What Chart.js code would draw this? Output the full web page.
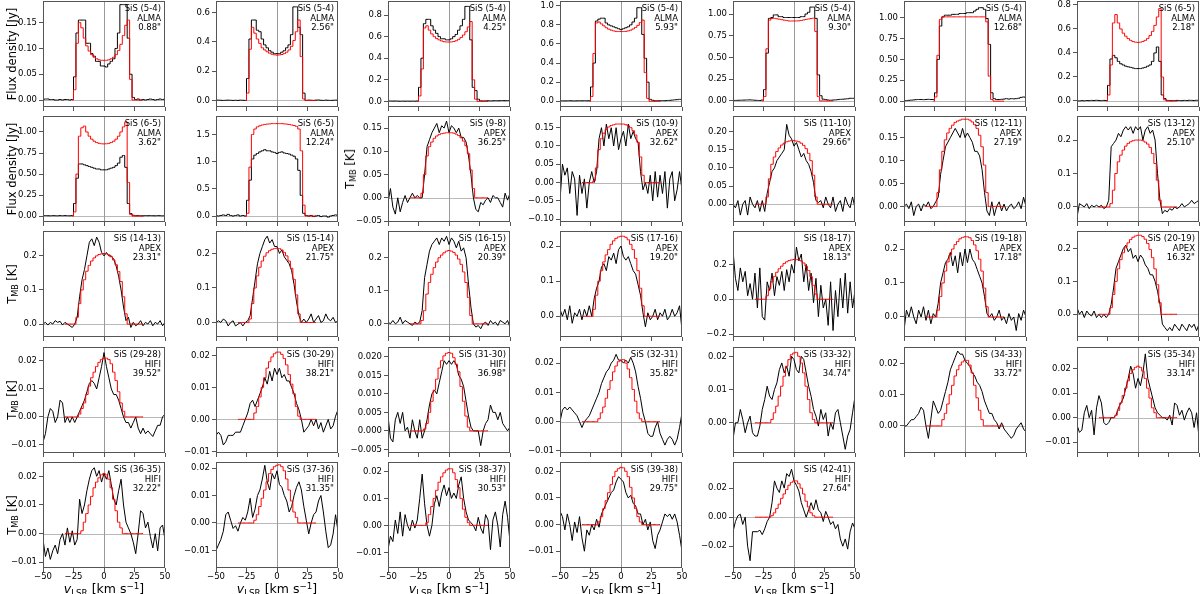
<!DOCTYPE html>
<html>
<head>
<meta charset="utf-8">
<script src="https://cdn.jsdelivr.net/npm/chart.js@4.4.1/dist/chart.umd.min.js"></script>
<style>
  html, body { margin: 0; padding: 0; background: #fff; }
  body { width: 1200px; height: 594px; position: relative; overflow: hidden; font-family: 'DejaVu Sans', sans-serif; color: #000; }
  canvas { position: absolute; }
  .ylab { position: absolute; transform: translate(-50%, -50%) rotate(-90deg); white-space: nowrap; font-size: 11.5px; }
  .xlab { position: absolute; transform: translate(-50%, -50%); white-space: nowrap; font-size: 12.5px; }
  .sub { font-size: 0.7em; position: relative; top: 0.3em; }
  .sup { font-size: 0.7em; position: relative; top: -0.45em; }
</style>
</head>
<body>
<script>
// velocity grids (km/s)
const vObs = [-50,-48,-46,-44,-42,-40,-38,-36,-34,-32,-30,-28,-26,-24,-22,-20,-18,-16,-14,-12,-10,-8,-6,-4,-2,0,2,4,6,8,10,12,14,16,18,20,22,24,26,28,30,32,34,36,38,40,42,44,46,48,50];
const vMod = [-32,-30,-28,-26,-24,-22,-20,-18,-16,-14,-12,-10,-8,-6,-4,-2,0,2,4,6,8,10,12,14,16,18,20,22,24,26,28,30,32];
const xTicks = [-50, -25, 0, 25, 50];

const transitions = ['SiS (5-4)','SiS (5-4)','SiS (5-4)','SiS (5-4)','SiS (5-4)','SiS (5-4)','SiS (6-5)',
  'SiS (6-5)','SiS (6-5)','SiS (9-8)','SiS (10-9)','SiS (11-10)','SiS (12-11)','SiS (13-12)',
  'SiS (14-13)','SiS (15-14)','SiS (16-15)','SiS (17-16)','SiS (18-17)','SiS (19-18)','SiS (20-19)',
  'SiS (29-28)','SiS (30-29)','SiS (31-30)','SiS (32-31)','SiS (33-32)','SiS (34-33)','SiS (35-34)',
  'SiS (36-35)','SiS (37-36)','SiS (38-37)','SiS (39-38)','SiS (42-41)'];
const telescopes = ['ALMA','ALMA','ALMA','ALMA','ALMA','ALMA','ALMA',
  'ALMA','ALMA','APEX','APEX','APEX','APEX','APEX',
  'APEX','APEX','APEX','APEX','APEX','APEX','APEX',
  'HIFI','HIFI','HIFI','HIFI','HIFI','HIFI','HIFI',
  'HIFI','HIFI','HIFI','HIFI','HIFI'];
const beams = ['0.88','2.56','4.25','5.93','9.30','12.68','2.18',
  '3.62','12.24','36.25','32.62','29.66','27.19','25.10',
  '23.31','21.75','20.39','19.20','18.13','17.18','16.32',
  '39.52','38.21','36.98','35.82','34.74','33.72','33.14',
  '32.22','31.35','30.53','29.75','27.64'];

const yMin = [-0.0135,-0.045,-0.052,-0.06,-0.07,-0.07,-0.05,
  -0.07,-0.11,-0.052,-0.108,-0.049,-0.034,-0.045,
  -0.038,-0.042,-0.04,-0.059,-0.217,-0.059,-0.069,
  -0.0129,-0.0105,-0.006,-0.0107,-0.0091,-0.0087,-0.0144,
  -0.012,-0.0164,-0.0158,-0.0163,-0.035];
const yMax = [0.192,0.68,0.93,1.05,1.15,1.2,0.833,
  1.19,1.84,0.176,0.182,0.243,0.197,0.272,
  0.273,0.265,0.281,0.243,0.392,0.253,0.253,
  0.025,0.0226,0.0227,0.0255,0.0228,0.0253,0.0288,
  0.025,0.0222,0.0235,0.0235,0.038];
const yTicks = [[0,0.05,0.1,0.15],[0,0.2,0.4,0.6],[0,0.2,0.4,0.6,0.8],[0,0.2,0.4,0.6,0.8,1.0],[0,0.25,0.5,0.75,1.0],[0,0.25,0.5,0.75,1.0],[0,0.2,0.4,0.6,0.8],
  [0,0.25,0.5,0.75,1.0],[0,0.5,1.0,1.5],[-0.05,0,0.05,0.1,0.15],[-0.1,-0.05,0,0.05,0.1,0.15],[0,0.05,0.1,0.15,0.2],[0,0.05,0.1,0.15],[0,0.1,0.2],
  [0,0.1,0.2],[0,0.1,0.2],[0,0.1,0.2],[0,0.1,0.2],[-0.2,0,0.2],[0,0.1,0.2],[0,0.1,0.2],
  [-0.01,0,0.01,0.02],[-0.01,0,0.01,0.02],[-0.005,0,0.005,0.01,0.015,0.02],[-0.01,0,0.01,0.02],[0,0.01,0.02],[0,0.01,0.02],[-0.01,0,0.01,0.02],
  [-0.01,0,0.01,0.02],[-0.01,0,0.01,0.02],[-0.01,0,0.01,0.02],[-0.01,0,0.01,0.02],[-0.02,0,0.02]];
const yDecimals = [2,1,1,1,2,2,1, 2,1,2,2,2,2,1, 1,1,1,1,1,1,1, 2,2,3,2,2,2,2, 2,2,2,2,2];

// observed spectra on vObs
const obs1 = [0.001,0.002,0.002,0.001,0.001,0.000,0.000,0.001,0.000,0.001,0.001,0.000,0.001,
  0.045,0.13,0.155,0.155,0.155,0.11,0.11,0.09,0.085,0.075,0.075,0.066,0.066,
  0.064,0.07,0.075,0.08,0.10,0.13,0.185,0.185,0.185,0.12,0.05,0.005,
  0.001,0.002,0.0,0.001,0.0,0.001,0.002,0.001,0.0,0.001,0.002,0.001,0.002];
const obs2 = [0.003,0.002,0.001,0.000,0.001,0.002,0.001,0.000,0.001,0.000,0.002,0.001,0.000,
  0.15,0.42,0.55,0.55,0.48,0.47,0.42,0.38,0.36,0.34,0.33,0.32,0.32,
  0.32,0.33,0.34,0.36,0.38,0.45,0.64,0.64,0.5,0.45,0.05,0.0,
  0.002,0.001,0.0,0.002,0.003,0.001,0.0,0.002,0.001,0.0,0.001,0.002,0.003];
const obs3 = [0.005,0.004,0.003,0.004,0.003,0.002,0.003,0.002,0.003,0.002,0.003,0.002,0.004,
  0.13,0.40,0.72,0.76,0.76,0.70,0.66,0.63,0.60,0.58,0.58,0.57,0.57,
  0.58,0.60,0.62,0.66,0.70,0.76,0.88,0.88,0.57,0.13,0.1,0.02,
  0.005,0.004,0.005,0.006,0.005,0.006,0.007,0.006,0.007,0.008,0.007,0.008,0.009];
const obs4 = [0.004,0.005,0.004,0.005,0.006,0.005,0.004,0.005,0.006,0.005,0.006,0.005,0.006,
  0.15,0.4,0.84,0.86,0.87,0.87,0.82,0.80,0.79,0.78,0.77,0.76,0.75,
  0.76,0.77,0.78,0.80,0.83,0.87,0.98,0.98,0.7,0.45,0.2,0.02,
  0.01,0.005,0.006,0.005,0.007,0.006,0.008,0.01,0.012,0.015,0.017,0.02,0.022];
const obs5 = [0.005,0.006,0.007,0.008,0.009,0.01,0.011,0.012,0.01,0.008,0.006,0.005,0.01,
  0.13,0.55,0.95,0.96,0.99,0.99,0.97,0.97,0.96,0.96,0.96,0.96,0.96,
  0.96,0.96,0.97,0.97,1.0,1.02,1.08,1.08,0.95,0.3,0.06,0.02,
  0.015,0.01,0.008,0.01,0.012,0.015,0.018,0.02,0.022,0.025,0.03,0.03,0.032];
const obs6 = [0.005,0.006,0.01,0.012,0.015,0.018,0.02,0.02,0.018,0.02,0.022,0.02,0.02,
  0.1,0.5,0.9,1.01,1.03,1.03,1.03,1.04,1.04,1.04,1.05,1.05,1.05,
  1.06,1.06,1.06,1.08,1.1,1.12,1.12,1.1,0.99,0.68,0.1,0.03,
  0.02,0.02,0.022,0.025,0.03,0.025,0.03,0.028,0.03,0.035,0.045,0.05,0.045];
const obs7 = [0.002,0.001,0.003,0.002,0.004,0.003,0.005,0.004,0.006,0.004,0.003,0.005,0.004,
  0.13,0.35,0.38,0.36,0.33,0.31,0.30,0.29,0.285,0.28,0.275,0.27,0.27,
  0.27,0.275,0.28,0.29,0.30,0.33,0.40,0.45,0.33,0.05,0.02,0.005,
  0.004,0.003,0.004,0.005,0.004,0.003,0.005,0.004,0.006,0.005,0.004,0.006,0.005];
const obs8 = [0.005,0.006,0.005,0.004,0.006,0.005,0.004,0.006,0.005,0.006,0.005,0.004,0.006,
  0.15,0.45,0.62,0.62,0.61,0.60,0.59,0.58,0.57,0.56,0.56,0.55,0.55,
  0.55,0.56,0.57,0.58,0.60,0.63,0.70,0.72,0.58,0.15,0.03,0.01,
  0.005,0.006,0.005,0.004,0.006,0.005,0.006,0.005,0.004,0.006,0.005,0.004,0.005];
const obs9 = [0.01,0.0,0.01,0.02,0.01,0.03,0.01,0.0,0.01,0.02,0.0,0.01,0.0,
  0.29,0.66,1.05,1.12,1.15,1.18,1.2,1.22,1.2,1.2,1.18,1.17,1.15,
  1.17,1.18,1.16,1.15,1.14,1.12,1.1,1.05,0.84,0.38,0.05,0.01,
  0.0,0.01,-0.01,0.0,0.01,-0.01,0.0,0.0,-0.02,0.0,0.01,0.02,0.01];
const obs10 = [-0.01,0.02,-0.02,-0.035,0.0,-0.03,-0.01,0.005,-0.01,0.0,0.01,0.0,0.005,
  0.0,0.0,0.05,0.11,0.125,0.14,0.15,0.16,0.14,0.155,0.15,0.165,0.14,
  0.155,0.15,0.14,0.15,0.13,0.13,0.12,0.09,0.05,0.0,-0.025,-0.03,
  -0.01,-0.015,-0.005,0.0,-0.01,0.005,0.0,0.0,-0.01,-0.02,0.01,-0.005,0.01];
const obs11 = [-0.05,0.05,0.02,0.04,-0.03,0.03,0.01,-0.09,0.02,-0.03,0.01,-0.07,0.0,
  0.03,0.0,0.03,0.12,0.15,0.1,0.16,0.12,0.15,0.1,0.15,0.09,0.12,
  0.14,0.1,0.16,0.12,0.14,0.12,0.11,0.03,-0.02,0.0,-0.03,0.02,
  -0.05,0.03,-0.04,0.02,-0.03,0.03,-0.07,0.01,0.03,-0.05,-0.02,0.03,-0.02];
const obs12 = [0.0,-0.01,0.01,-0.03,0.0,0.01,-0.03,0.02,0.0,-0.01,0.01,-0.02,0.01,
  -0.02,0.03,0.06,0.09,0.1,0.12,0.13,0.14,0.15,0.22,0.19,0.18,0.16,
  0.17,0.15,0.13,0.14,0.12,0.11,0.09,0.06,0.01,0.005,0.01,-0.01,
  0.02,0.0,-0.01,0.02,-0.02,0.0,0.01,-0.02,0.02,0.0,-0.01,0.02,-0.01];
const obs13 = [0.0,0.005,-0.005,0.01,-0.02,0.0,0.005,-0.01,0.005,0.0,0.01,-0.005,0.0,
  0.01,0.02,0.07,0.1,0.13,0.14,0.15,0.16,0.17,0.16,0.15,0.17,0.15,
  0.16,0.15,0.14,0.12,0.12,0.11,0.08,0.03,-0.01,-0.02,0.01,-0.02,
  0.0,0.01,-0.01,0.005,-0.01,0.0,0.005,-0.005,0.0,0.01,-0.005,0.02,0.0];
const obs14 = [-0.03,0.01,0.005,0.0,0.01,-0.005,0.005,0.0,0.005,0.0,0.005,-0.005,0.0,
  0.02,0.18,0.19,0.2,0.22,0.21,0.23,0.24,0.23,0.24,0.22,0.24,0.23,
  0.24,0.2,0.23,0.24,0.22,0.23,0.2,0.1,0.02,-0.02,-0.01,-0.015,
  -0.005,-0.01,0.0,-0.005,0.0,0.01,0.0,0.005,0.01,0.02,0.01,0.015,0.02];
const obs15 = [0.0,0.005,-0.003,0.005,0.0,0.01,0.005,0.008,-0.003,0.005,0.0,-0.005,-0.01,
  0.0,0.02,0.08,0.13,0.16,0.2,0.24,0.25,0.23,0.255,0.24,0.21,0.2,
  0.21,0.2,0.2,0.19,0.17,0.14,0.1,0.05,0.01,0.02,-0.01,0.005,
  -0.005,0.0,0.01,-0.005,0.005,0.0,0.01,-0.005,0.005,0.0,0.01,-0.005,0.005];
const obs16 = [0.0,0.005,0.0,0.01,0.005,-0.01,0.0,0.005,-0.01,-0.005,0.0,-0.01,0.0,
  0.005,0.02,0.07,0.12,0.17,0.2,0.22,0.24,0.25,0.23,0.24,0.22,0.22,
  0.2,0.21,0.19,0.18,0.17,0.15,0.11,0.06,0.02,0.0,0.01,0.0,
  0.01,0.025,0.0,0.01,0.02,0.0,0.005,0.025,0.01,0.005,0.015,0.0,0.005];
const obs17 = [0.005,0.0,0.01,0.0,0.005,0.02,0.0,0.01,0.005,0.0,-0.005,0.005,0.0,
  0.005,0.04,0.14,0.18,0.22,0.24,0.25,0.26,0.24,0.26,0.25,0.265,0.24,
  0.26,0.25,0.23,0.25,0.22,0.23,0.2,0.12,0.05,0.0,-0.01,-0.005,
  -0.015,0.0,0.005,-0.005,0.01,0.0,0.005,-0.005,0.01,0.005,0.0,0.01,-0.01];
const obs18 = [0.02,0.0,0.02,-0.01,0.03,-0.02,0.01,0.0,0.02,-0.01,0.02,0.0,0.03,
  0.0,0.05,0.08,0.1,0.14,0.15,0.13,0.17,0.16,0.18,0.15,0.19,0.2,
  0.17,0.16,0.17,0.15,0.13,0.12,0.09,0.06,0.01,-0.03,0.01,-0.01,
  0.0,0.02,-0.01,0.01,0.0,0.02,-0.01,0.0,0.02,0.0,0.01,0.03,-0.04];
const obs19 = [0.28,0.12,0.05,0.18,0.1,0.16,0.02,0.09,0.0,0.15,-0.05,0.18,-0.1,
  -0.12,0.1,0.05,0.15,0.02,0.13,0.08,0.16,0.05,0.17,0.1,0.2,0.15,
  0.3,0.22,0.26,0.1,0.2,0.05,0.15,-0.02,0.12,-0.1,0.08,-0.05,
  0.0,-0.15,0.1,-0.18,0.05,-0.1,0.12,-0.05,0.15,-0.08,0.1,-0.05,0.05];
const obs20 = [-0.04,0.02,0.0,0.03,0.0,-0.02,0.02,0.0,0.03,-0.01,0.02,-0.02,0.01,
  0.0,0.04,0.1,0.13,0.16,0.17,0.19,0.15,0.18,0.13,0.19,0.15,0.2,
  0.16,0.2,0.17,0.16,0.14,0.12,0.1,0.06,0.01,0.0,0.01,-0.01,
  0.0,0.02,-0.01,0.0,-0.02,0.01,-0.01,0.0,-0.04,0.01,-0.01,0.02,0.0];
const obs21 = [0.02,0.0,0.01,-0.01,0.01,0.0,-0.005,0.01,-0.01,0.0,-0.01,0.0,-0.01,
  0.0,0.03,0.08,0.14,0.16,0.18,0.2,0.21,0.19,0.2,0.17,0.18,0.16,
  0.18,0.17,0.15,0.14,0.12,0.12,0.1,0.07,0.03,-0.03,-0.04,-0.05,
  -0.04,-0.05,-0.03,-0.04,-0.05,-0.03,-0.04,-0.05,-0.03,-0.04,-0.03,-0.05,-0.03];
const obs22 = [-0.009,-0.006,0.0,0.003,0.002,-0.002,0.0,0.006,0.005,-0.002,0.0,-0.002,0.0,
  -0.002,0.0,0.002,0.004,0.006,0.009,0.012,0.013,0.012,0.01,0.014,0.018,0.023,
  0.018,0.014,0.01,0.008,0.008,0.006,0.003,0.0,-0.002,-0.002,-0.004,-0.002,
  0.0,-0.004,-0.006,-0.004,-0.006,-0.005,-0.006,-0.007,-0.005,-0.003,-0.003,0.0,0.001];
const obs23 = [-0.005,-0.004,-0.005,-0.008,-0.007,-0.005,-0.005,-0.005,-0.004,-0.004,-0.004,-0.002,0.0,
  0.002,0.005,0.006,0.004,0.006,0.008,0.01,0.013,0.011,0.015,0.012,0.016,0.014,
  0.016,0.013,0.014,0.012,0.012,0.01,0.008,0.005,0.003,0.0,-0.004,-0.003,
  -0.002,0.0,-0.002,0.0,-0.003,-0.001,-0.004,-0.002,0.0,-0.003,-0.002,0.001,0.003];
const obs24 = [0.004,-0.002,-0.003,0.003,0.005,0.002,0.005,0.0,0.001,-0.002,0.003,0.0,-0.002,
  0.003,-0.002,0.0,0.003,0.007,0.01,0.011,0.01,0.013,0.016,0.019,0.018,0.019,
  0.018,0.019,0.018,0.015,0.014,0.012,0.008,0.004,0.001,0.0,0.0,0.0,
  -0.004,0.0,0.002,0.003,0.007,0.005,0.005,0.003,0.005,0.002,0.001,0.0,0.001];
const obs25 = [0.0,0.004,0.005,0.004,0.005,0.004,0.003,0.002,0.0,-0.002,0.0,0.001,0.002,
  0.004,0.006,0.008,0.01,0.013,0.015,0.017,0.018,0.02,0.021,0.023,0.021,0.021,
  0.02,0.021,0.02,0.022,0.02,0.017,0.012,0.008,0.003,0.0,-0.004,-0.005,
  -0.005,-0.002,0.0,-0.004,-0.006,-0.008,-0.006,-0.005,-0.006,-0.008,-0.006,-0.002,0.003];
const obs26 = [-0.005,0.0,0.0,0.004,0.001,-0.003,0.0,0.002,-0.003,-0.004,-0.004,-0.001,0.004,
  0.007,0.011,0.008,0.007,0.01,0.012,0.016,0.018,0.015,0.017,0.014,0.02,0.019,
  0.016,0.015,0.02,0.019,0.015,0.011,0.008,0.004,0.002,-0.001,0.004,0.001,
  0.003,-0.004,0.0,-0.002,0.003,0.004,0.0,-0.004,-0.008,-0.004,-0.002,0.003,0.008];
const obs27 = [0.0,0.0,0.001,0.002,0.002,0.003,0.004,0.006,0.005,0.0,-0.004,0.002,0.008,
  0.006,0.004,0.005,0.008,0.011,0.014,0.018,0.02,0.022,0.024,0.023,0.023,0.021,
  0.02,0.019,0.017,0.016,0.014,0.013,0.011,0.008,0.006,0.004,0.004,0.002,
  0.001,-0.001,0.001,-0.001,-0.002,-0.003,-0.004,-0.003,-0.001,0.0,0.001,-0.001,-0.002];
const obs28 = [-0.003,-0.006,-0.005,0.002,0.005,0.0,0.003,-0.007,0.004,0.009,0.006,-0.002,-0.003,
  -0.002,0.0,0.0,0.001,0.004,0.006,0.008,0.012,0.016,0.021,0.018,0.012,0.016,
  0.013,0.018,0.026,0.016,0.012,0.008,0.004,0.002,0.001,0.0,0.0,-0.001,
  0.001,-0.003,0.006,0.005,0.001,0.003,-0.001,0.002,0.004,0.002,-0.004,0.002,-0.008];
const obs29 = [-0.002,-0.008,-0.005,-0.009,-0.006,-0.004,-0.007,-0.002,0.0,-0.004,0.002,-0.003,0.001,
  -0.004,-0.002,0.012,0.007,0.01,0.015,0.019,0.022,0.023,0.02,0.022,0.018,0.021,
  0.019,0.022,0.017,0.012,0.01,0.015,0.019,0.01,0.004,0.002,0.0,-0.003,
  -0.007,0.0,0.008,0.007,0.002,0.004,-0.001,-0.005,0.0,-0.006,0.002,0.003,-0.002];
const obs30 = [-0.01,-0.008,-0.006,-0.003,0.003,0.004,0.001,-0.002,-0.001,-0.003,0.0,0.002,0.001,
  0.004,0.009,0.002,0.005,0.01,0.012,0.016,0.021,0.015,0.012,0.018,0.016,0.019,
  0.014,0.013,0.01,0.008,0.004,0.006,0.01,0.013,0.015,0.012,0.006,0.001,
  -0.004,0.0,0.003,0.004,0.008,0.01,0.004,-0.003,-0.009,-0.008,-0.004,0.003,-0.003];
const obs31 = [-0.009,-0.004,-0.006,0.002,-0.003,0.005,-0.004,0.004,0.0,-0.002,0.002,-0.001,0.002,
  0.01,0.019,0.008,0.0,-0.004,0.0,0.008,0.011,0.007,0.012,0.015,0.011,0.014,
  0.01,0.012,0.01,0.015,0.018,0.01,0.005,0.002,0.001,0.0,-0.002,0.003,
  -0.001,-0.003,0.004,0.002,-0.009,0.002,0.005,0.0,-0.008,0.004,0.009,0.003,-0.006];
const obs32 = [0.005,0.003,-0.002,0.004,0.0,-0.006,0.001,-0.003,0.003,-0.005,-0.01,-0.002,-0.004,
  0.0,-0.002,0.002,-0.001,0.004,0.006,0.008,0.01,0.012,0.013,0.016,0.018,0.017,
  0.016,0.012,0.01,0.011,0.008,0.007,0.004,0.004,0.0,0.002,-0.002,0.001,
  -0.006,-0.009,-0.004,-0.002,0.001,0.004,0.003,0.004,0.002,0.004,0.001,-0.004,-0.01];
const obs33 = [-0.01,-0.003,0.001,0.002,-0.005,0.0,-0.02,-0.03,-0.01,-0.01,-0.01,-0.009,-0.012,
  -0.008,-0.003,0.0,0.01,0.025,0.02,0.017,0.025,0.02,0.03,0.028,0.033,0.025,
  0.022,0.018,0.01,0.005,0.0,0.005,0.01,0.005,0.012,0.005,0.003,-0.003,
  0.004,0.0,-0.005,-0.003,-0.008,-0.005,-0.015,-0.02,-0.015,-0.022,-0.01,-0.004,-0.008];

// model spectra on vMod
const mod1 = [null,null,null,0,0.02,0.11,0.15,0.14, 0.12,0.105,0.095,0.088,0.083,0.08,0.078,0.077,0.077, 0.077,0.078,0.08,0.083,0.088,0.096,0.108,0.125, 0.145,0.155,0.04,0,0,0,0,0];
const mod2 = [null,null,null,0,0.05,0.35,0.5,0.46, 0.42,0.39,0.36,0.345,0.333,0.323,0.316,0.312,0.31, 0.311,0.314,0.32,0.33,0.345,0.37,0.41,0.47, 0.55,0.3,0.01,0,0,0,0,0];
const mod3 = [null,null,null,0,0.05,0.3,0.68,0.7, 0.66,0.625,0.6,0.582,0.57,0.56,0.553,0.55,0.55, 0.551,0.555,0.562,0.575,0.592,0.615,0.645,0.69, 0.74,0.2,0.02,0,0,0,0,0];
const mod4 = [null,null,null,0,0.05,0.5,0.82,0.83, 0.81,0.79,0.77,0.755,0.745,0.737,0.732,0.73,0.73, 0.73,0.732,0.737,0.745,0.757,0.773,0.795,0.825, 0.85,0.3,0.03,0,0,0,0,0];
const mod5 = [null,null,null,0,0.05,0.6,0.93,0.95, 0.95,0.945,0.94,0.935,0.93,0.925,0.92,0.92,0.92, 0.92,0.922,0.926,0.932,0.938,0.943,0.948,0.952, 0.8,0.05,0,0,0,0,0,0];
const mod6 = [null,null,null,0,0.05,0.55,0.98,1.01, 1.01,1.01,1.01,1.01,1.01,1.01,1.01,1.01,1.01, 1.01,1.01,1.01,1.01,1.01,1.01,1.01,1.01, 0.95,0.3,0.02,0,0,0,0,0];
const mod7 = [null,null,null,0,0.05,0.3,0.65,0.72, 0.65,0.6,0.565,0.54,0.52,0.505,0.495,0.49,0.488, 0.49,0.495,0.505,0.52,0.545,0.58,0.63,0.7, 0.77,0.2,0.01,0,0,0,0,0];
const mod8 = [null,null,null,0,0.05,0.5,0.95,1.05, 1.07,1.0,0.95,0.915,0.89,0.875,0.865,0.86,0.858, 0.86,0.865,0.875,0.89,0.915,0.95,1.0,1.06, 1.12,0.4,0.02,0,0,0,0,0];
const mod9 = [null,null,null,0,0.05,0.9,1.5,1.6, 1.64,1.66,1.675,1.685,1.69,1.695,1.7,1.7,1.7, 1.7,1.7,1.695,1.69,1.685,1.675,1.665,1.65, 1.6,1.2,0.2,0,0,0,0,0];
const mod10 = [0,0,0,0,0,0.01,0.05,0.09, 0.11,0.12,0.128,0.133,0.136,0.138,0.139,0.14,0.14, 0.14,0.139,0.137,0.134,0.129,0.122,0.112,0.095, 0.06,0.02,0,0,0,0,0,0];
const mod11 = [0,0,0,0,0,0.005,0.04,0.09, 0.12,0.135,0.145,0.152,0.156,0.158,0.16,0.16,0.16, 0.16,0.158,0.155,0.15,0.142,0.13,0.11,0.07, 0.02,0,0,0,0,0,0,0];
const mod12 = [0,0,0,0,0,0.02,0.07,0.11, 0.13,0.145,0.155,0.163,0.168,0.172,0.174,0.175,0.175, 0.174,0.172,0.168,0.162,0.153,0.14,0.12,0.08, 0.02,0,0,0,0,0,0,0];
const mod13 = [0,0,0,0,0,0.03,0.08,0.12, 0.145,0.16,0.17,0.177,0.183,0.186,0.188,0.19,0.19, 0.19,0.188,0.184,0.178,0.17,0.155,0.13,0.09, 0.03,0,0,0,0,0,0,0];
const mod14 = [0,0,0,0,0,0.01,0.05,0.1, 0.135,0.155,0.17,0.182,0.19,0.195,0.198,0.2,0.2, 0.2,0.198,0.194,0.188,0.178,0.16,0.13,0.08, 0.02,0,0,0,0,0,0,0];
const mod15 = [0,0,0,0,0,0.02,0.06,0.1, 0.13,0.155,0.172,0.185,0.194,0.2,0.204,0.206,0.207, 0.206,0.203,0.197,0.188,0.174,0.154,0.125,0.08, 0.03,0,0,0,0,0,0,0];
const mod16 = [0,0,0,0,0,0.01,0.055,0.1, 0.135,0.16,0.178,0.192,0.202,0.208,0.212,0.214,0.215, 0.214,0.21,0.203,0.193,0.178,0.157,0.125,0.08, 0.025,0,0,0,0,0,0,0];
const mod17 = [0,0,0,0,0,0.01,0.04,0.09, 0.125,0.15,0.17,0.187,0.2,0.208,0.215,0.22,0.222, 0.22,0.216,0.208,0.196,0.18,0.157,0.125,0.08, 0.025,0,0,0,0,0,0,0];
const mod18 = [0,0,0,0,0,0.02,0.06,0.1, 0.13,0.155,0.175,0.19,0.205,0.215,0.222,0.226,0.228, 0.228,0.225,0.218,0.205,0.19,0.165,0.13,0.08, 0.03,0,0,0,0,0,0,0];
const mod19 = [0,0,0,0,0,0.02,0.06,0.1, 0.13,0.155,0.175,0.19,0.205,0.215,0.222,0.226,0.228, 0.228,0.226,0.22,0.208,0.19,0.165,0.13,0.08, 0.03,0,0,0,0,0,0,0];
const mod20 = [0,0,0,0,0,0.02,0.06,0.1, 0.135,0.162,0.183,0.2,0.213,0.222,0.23,0.234,0.236, 0.236,0.233,0.225,0.212,0.195,0.17,0.135,0.085, 0.03,0,0,0,0,0,0,0];
const mod21 = [0,0,0,0,0,0.02,0.06,0.1, 0.138,0.166,0.187,0.204,0.217,0.227,0.234,0.238,0.24, 0.24,0.236,0.228,0.215,0.197,0.172,0.138,0.09, 0.035,0,0,0,0,0,0,0];
const mod22 = [0,0,0,0,0,0,0.001,0.003, 0.005,0.008,0.011,0.014,0.016,0.018,0.0195,0.0205,0.021, 0.021,0.0205,0.019,0.016,0.013,0.009,0.005,0.002, 0,0,0,0,0,0,0,0];
const mod23 = [0,0,0,0,0,0,0,0.002, 0.004,0.007,0.01,0.013,0.016,0.018,0.0195,0.0205,0.021, 0.021,0.0203,0.019,0.017,0.014,0.011,0.008,0.004, 0.001,0,0,0,0,0,0,0];
const mod24 = [0,0,0,0,0,0,0.0005,0.002, 0.005,0.008,0.011,0.014,0.017,0.019,0.0203,0.021,0.0212, 0.021,0.0198,0.018,0.016,0.012,0.008,0.004,0.001, 0,0,0,0,0,0,0,0];
const mod25 = [0,0,0,0,0,0,0,0.001, 0.003,0.005,0.008,0.011,0.014,0.017,0.019,0.0205,0.021, 0.0212,0.02,0.018,0.015,0.011,0.007,0.003,0.001, 0,0,0,0,0,0,0,0];
const mod26 = [0,0,0,0,0,0,0,0.001, 0.003,0.005,0.008,0.011,0.014,0.017,0.019,0.0205,0.021, 0.0212,0.02,0.018,0.015,0.011,0.007,0.003,0.001, 0,0,0,0,0,0,0,0];
const mod27 = [0,0,0,0,0,0,0,0.002, 0.004,0.007,0.01,0.013,0.016,0.018,0.0195,0.0205,0.021, 0.021,0.0195,0.017,0.013,0.009,0.005,0.002,0, 0,0,0,0,0,0,0,0];
const mod28 = [0,0,0,0,0,0,0,0.001, 0.003,0.006,0.009,0.012,0.015,0.018,0.0195,0.0205,0.021, 0.0205,0.019,0.016,0.012,0.008,0.004,0.002,0, 0,0,0,0,0,0,0,0];
const mod29 = [0,0,0,0,0,0,0,0.001, 0.004,0.007,0.01,0.013,0.016,0.018,0.0195,0.0205,0.021, 0.0205,0.019,0.016,0.012,0.008,0.004,0.002,0, 0,0,0,0,0,0,0,0];
const mod30 = [0,0,0,0,0,0,0,0.001, 0.003,0.006,0.009,0.012,0.015,0.018,0.0195,0.0205,0.021, 0.0212,0.0205,0.019,0.016,0.012,0.008,0.004,0.002, 0,0,0,0,0,0,0,0];
const mod31 = [0,0,0,0,0,0,0,0.001, 0.004,0.007,0.01,0.013,0.016,0.018,0.0195,0.0205,0.021, 0.021,0.0195,0.017,0.014,0.01,0.006,0.003,0.001, 0,0,0,0,0,0,0,0];
const mod32 = [0,0,0,0,0,0,0,0.001, 0.003,0.006,0.009,0.012,0.015,0.018,0.02,0.021,0.0215, 0.0213,0.02,0.018,0.014,0.01,0.006,0.003,0.001, 0,0,0,0,0,0,0,0];
const mod33 = [0,0,0,0,0,0,0,0.001, 0.003,0.006,0.009,0.013,0.016,0.019,0.022,0.024,0.025, 0.025,0.023,0.02,0.016,0.011,0.007,0.003,0.001, 0,0,0,0,0,0,0,0];

const obsSeries = [obs1,obs2,obs3,obs4,obs5,obs6,obs7,obs8,obs9,obs10,obs11,obs12,obs13,obs14,obs15,obs16,obs17,
  obs18,obs19,obs20,obs21,obs22,obs23,obs24,obs25,obs26,obs27,obs28,obs29,obs30,obs31,obs32,obs33];
const modSeries = [mod1,mod2,mod3,mod4,mod5,mod6,mod7,mod8,mod9,mod10,mod11,mod12,mod13,mod14,mod15,mod16,mod17,
  mod18,mod19,mod20,mod21,mod22,mod23,mod24,mod25,mod26,mod27,mod28,mod29,mod30,mod31,mod32,mod33];

// page layout
const colLeft = [43, 216, 388, 560, 733, 904, 1077];
const rowTop = [1, 116, 231, 347, 462];
const PW = 122, PH = 106;
const AXW = 42, PADT = 8, PADR = 12;
const FONT = "'DejaVu Sans'";

Chart.defaults.font.family = FONT;
Chart.defaults.font.size = 8.5;
Chart.defaults.color = '#000';

const fmt = (v, d) => (v < 0 ? '\u2212' : '') + Math.abs(v).toFixed(d);
const pts = (xs, ys) => xs.map((x, i) => ({ x: x, y: ys[i] }));

const panelPlugin = {
  id: 'panel',
  beforeDatasetsDraw(chart) {
    const { ctx, chartArea: a, scales: { x, y } } = chart;
    ctx.save();
    ctx.lineWidth = 1;
    ctx.strokeStyle = '#b8b8b8';
    const y0 = Math.round(y.getPixelForValue(0)) + 0.5;
    ctx.beginPath(); ctx.moveTo(a.left, y0); ctx.lineTo(a.right, y0); ctx.stroke();
    ctx.strokeStyle = '#9a9a9a';
    const x0 = Math.round(x.getPixelForValue(0)) + 0.5;
    ctx.beginPath(); ctx.moveTo(x0, a.top); ctx.lineTo(x0, a.bottom); ctx.stroke();
    ctx.restore();
  },
  afterDraw(chart, args, opts) {
    const { ctx, chartArea: a } = chart;
    const p = opts.index;
    ctx.save();
    ctx.strokeStyle = '#555';
    ctx.lineWidth = 1;
    ctx.strokeRect(Math.round(a.left) + 0.5, Math.round(a.top) + 0.5,
      Math.round(a.right - a.left) - 1, Math.round(a.bottom - a.top) - 1);
    ctx.fillStyle = '#000';
    ctx.font = '8.5px ' + FONT;
    ctx.textAlign = 'right';
    ctx.textBaseline = 'middle';
    const tx = a.right - 4;
    ctx.fillText(transitions[p], tx, a.top + 8);
    ctx.fillText(telescopes[p], tx, a.top + 17.5);
    ctx.fillText(beams[p] + '"', tx, a.top + 27);
    ctx.restore();
  }
};

function makePanel(p) {
  const row = Math.floor(p / 7), col = p % 7;
  const bottom = row === 4;
  const xH = bottom ? 24 : 8;
  const cv = document.createElement('canvas');
  const w = AXW + PW + PADR, h = PADT + PH + xH;
  cv.width = w; cv.height = h;
  cv.style.left = (colLeft[col] - AXW) + 'px';
  cv.style.top = (rowTop[row] - PADT) + 'px';
  cv.style.width = w + 'px'; cv.style.height = h + 'px';
  document.body.appendChild(cv);
  const alma = telescopes[p] === 'ALMA';
  new Chart(cv, {
    type: 'line',
    data: {
      datasets: [
        { data: pts(vObs, obsSeries[p]), borderColor: '#000', borderWidth: 1, pointRadius: 0,
          stepped: alma ? 'middle' : false, tension: 0, order: 2 },
        { data: pts(vMod, modSeries[p]), borderColor: '#ff0000', borderWidth: 1, pointRadius: 0,
          stepped: 'middle', order: 1 }
      ]
    },
    options: {
      responsive: false, animation: false, devicePixelRatio: 1,
      layout: { padding: { top: PADT, right: PADR, left: 0, bottom: 0 } },
      plugins: { legend: { display: false }, tooltip: { enabled: false }, panel: { index: p } },
      scales: {
        x: {
          type: 'linear', min: -50, max: 50,
          afterBuildTicks: s => { s.ticks = xTicks.map(v => ({ value: v })); },
          afterFit: s => { s.height = xH; },
          ticks: { display: bottom, padding: 0, maxRotation: 0, autoSkip: false,
            font: { size: 8.5 }, callback: v => fmt(v, 0) },
          grid: { drawOnChartArea: false, drawTicks: true, tickLength: 4, color: '#555' },
          border: { display: false }
        },
        y: {
          type: 'linear', min: yMin[p], max: yMax[p],
          afterBuildTicks: s => { s.ticks = yTicks[p].map(v => ({ value: v })); },
          afterFit: s => { s.width = AXW; },
          ticks: { padding: 2, autoSkip: false, font: { size: 8.5 }, callback: v => fmt(v, yDecimals[p]) },
          grid: { drawOnChartArea: false, drawTicks: true, tickLength: 4, color: '#555' },
          border: { display: false }
        }
      }
    },
    plugins: [panelPlugin]
  });
}

for (let p = 0; p < 33; p++) makePanel(p);

function addLabel(cls, html, x, y) {
  const d = document.createElement('div');
  d.className = cls;
  d.innerHTML = html;
  d.style.left = x + 'px';
  d.style.top = y + 'px';
  document.body.appendChild(d);
}
const tmb = 'T<span class="sub">MB</span> [K]';
addLabel('ylab', 'Flux density [Jy]', 12, rowTop[0] + PH / 2);
addLabel('ylab', 'Flux density [Jy]', 12, rowTop[1] + PH / 2);
addLabel('ylab', tmb, 350, rowTop[1] + PH / 2);
addLabel('ylab', tmb, 12, rowTop[2] + PH / 2);
addLabel('ylab', tmb, 12, rowTop[3] + PH / 2);
addLabel('ylab', tmb, 12, rowTop[4] + PH / 2);
for (let c = 0; c < 5; c++) {
  addLabel('xlab', '<i>v</i><span class="sub">LSR</span> [km s<span class="sup">\u22121</span>]', colLeft[c] + PW / 2, 588);
}
</script>
</body>
</html>
